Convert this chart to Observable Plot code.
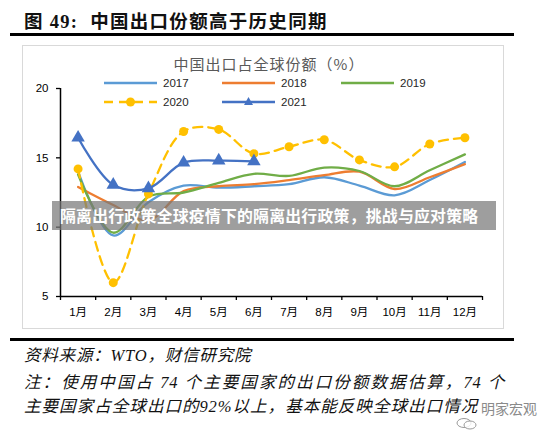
<!DOCTYPE html>
<html>
<head>
<meta charset="utf-8">
<script src="https://cdn.jsdelivr.net/npm/d3@7"></script>
<script src="https://cdn.jsdelivr.net/npm/@observablehq/plot@0.6"></script>
<style>
  html, body { margin: 0; padding: 0; background: #fff; }
  #wrap { position: relative; width: 550px; height: 431px; overflow: hidden; background: #fff; }
  .abs { position: absolute; }
  #title { left: 24px; top: 7px; font: bold 18.5px "Liberation Serif", "Noto Sans CJK SC"; color: #111; letter-spacing: 1.3px; white-space: nowrap; }
  #rule1 { left: 10px; top: 33px; width: 504px; height: 3px; background: #000; }
  #box { left: 22px; top: 45px; width: 480px; height: 282px; border: 1.5px solid #d9d9d9; }
  #plot { left: 0; top: 45px; }
  #ctitle { left: 0; width: 538px; top: 53px; text-align: center; font: 15px "Noto Sans CJK SC"; color: #595959; letter-spacing: 1px; }
  .leg { position: absolute; font: 11.5px "Liberation Sans", sans-serif; color: #262626; display: flex; align-items: center; height: 16px; }
  .leg svg { margin-right: 6px; }
  #banner { left: 52px; top: 201px; width: 444px; height: 29px; background: rgba(120,120,120,0.72); color: #fff; font: bold 15.9px "Noto Sans CJK SC"; line-height: 29px; padding-left: 8px; box-sizing: border-box; white-space: nowrap; letter-spacing: 0.2px; }
  #rule2 { left: 10px; top: 338px; width: 504px; height: 3px; background: #000; }
  .note { position: absolute; left: 24px; font: italic 16.5px "Liberation Serif", "Noto Sans CJK SC"; color: #111; white-space: nowrap; letter-spacing: 0.8px; }
  .just { text-align: justify; text-align-last: justify; white-space: normal; }
  #wm { left: 481px; top: 398px; font: 14px "Noto Sans CJK SC"; color: #8a8a8a; white-space: nowrap; }
</style>
</head>
<body>
<div id="wrap">
  <div id="title" class="abs">图 49:&nbsp; 中国出口份额高于历史同期</div>
  <div id="rule1" class="abs"></div>
  <div id="box" class="abs"></div>
  <div id="plot" class="abs"></div>
  <div id="ctitle" class="abs">中国出口占全球份额（%）</div>
  <div id="legend"></div>
  <div id="banner" class="abs">隔离出行政策全球疫情下的隔离出行政策，挑战与应对策略</div>
  <div id="rule2" class="abs"></div>
  <div class="note" style="top:342px;">资料来源：WTO，财信研究院</div>
  <div class="note just" style="top:369px; width:481px;">注：使用中国占 74 个主要国家的出口份额数据估算，74 个</div>
  <div class="note just" style="top:393px; width:454px;">主要国家占全球出口的92%以上，基本能反映全球出口情况</div>
  <svg class="abs" style="left:455px; top:418px;" width="24" height="12">
    <ellipse cx="9" cy="5" rx="7" ry="4.5" fill="none" stroke="#9a9a9a" stroke-width="1"/>
    <ellipse cx="15" cy="7" rx="6" ry="4" fill="rgba(255,255,255,0.8)" stroke="#9a9a9a" stroke-width="1"/>
  </svg>
  <div id="wm" class="abs">明家宏观</div>
</div>
<script>
const months = ["1月","2月","3月","4月","5月","6月","7月","8月","9月","10月","11月","12月"];
const years = ["2017","2018","2019","2020","2021"];
const colors = ["#5B9BD5","#ED7D31","#70AD47","#FFC000","#4472C4"];
const yTicks = [5, 10, 15, 20];
const s2017 = [14.0, 9.4, 11.8, 13.0, 12.85, 12.95, 13.1, 13.6, 13.0, 12.3, 13.4, 14.7];
const s2018 = [12.9, 11.6, 10.5, 12.6, 12.95, 13.1, 13.4, 13.75, 14.0, 12.75, 13.6, 14.55];
const s2019 = [13.8, 9.6, 12.2, 12.5, 13.2, 13.85, 13.7, 14.3, 14.05, 12.95, 14.1, 15.25];
const s2020 = [14.2, 6.0, 12.4, 16.9, 17.05, 15.3, 15.8, 16.3, 14.85, 14.35, 16.0, 16.45];
const s2021 = [16.45, 13.05, 12.8, 14.65, 14.8, 14.75];

const series = [s2017, s2018, s2019, s2020, s2021];
const toRows = (vals, year) => vals.map((v, i) => ({year, m: i + 1, v}));
const rows = series.map((s, i) => toRows(s, years[i]));

const lineMark = (data, color, extra = {}) =>
  Plot.line(data, {x: "m", y: "v", stroke: color, strokeWidth: 2.3, curve: "catmull-rom", ...extra});

const chart = Plot.plot({
  width: 550, height: 283,
  marginLeft: 60, marginRight: 68, marginTop: 43, marginBottom: 32,
  style: {fontFamily: "'Liberation Sans', 'Noto Sans CJK SC', sans-serif", fontSize: "11.5px", color: "#000", background: "transparent"},
  x: {domain: [0.5, 12.5], axis: null},
  y: {domain: [5, 20], axis: null},
  marks: [
    Plot.axisY({ticks: yTicks, tickSize: 4, tickPadding: 8, label: null, stroke: "#000", strokeWidth: 1.3, fill: "#000", fontSize: 11.5}),
    Plot.axisX({ticks: d3.range(0.5, 13, 1), tickSize: 4, label: null, tickFormat: () => "", stroke: "#000", strokeWidth: 1.3}),
    Plot.axisX({ticks: d3.range(1, 13), tickSize: 0, tickPadding: 11, label: null, tickFormat: d => months[d - 1], fill: "#000", fontSize: 11.5}),
    Plot.ruleX([0.5], {y1: 5, y2: 20, stroke: "#000", strokeWidth: 1.5}),
    Plot.ruleY([5], {x1: 0.5, x2: 12.5, stroke: "#000", strokeWidth: 1.5}),
    lineMark(rows[0], colors[0]),
    lineMark(rows[1], colors[1]),
    lineMark(rows[2], colors[2]),
    lineMark(rows[3], colors[3], {strokeDasharray: "9,6"}),
    Plot.dot(rows[3], {x: "m", y: "v", r: 4.5, fill: colors[3], stroke: "none"}),
    lineMark(rows[4], colors[4]),
    Plot.dot(rows[4], {x: "m", y: "v", r: 5, symbol: "triangle", fill: colors[4], stroke: "none"})
  ]
});
document.getElementById("plot").appendChild(chart);

// legend
const legPos = [[104, 75], [222, 75], [341, 75], [104, 94], [222, 94]];
const leg = document.getElementById("legend");
years.forEach((yr, i) => {
  const d = document.createElement("div");
  d.className = "leg";
  d.style.left = legPos[i][0] + "px";
  d.style.top = legPos[i][1] + "px";
  let sym = "";
  let line = `<line x1="0" x2="53" y1="8" y2="8" stroke="${colors[i]}" stroke-width="2.5"/>`;
  if (i === 3) {
    line = `<line x1="0" x2="53" y1="8" y2="8" stroke="${colors[i]}" stroke-width="2.5" stroke-dasharray="9,6"/>`;
    sym = `<circle cx="26.5" cy="8" r="4.5" fill="${colors[i]}"/>`;
  } else if (i === 4) {
    sym = `<path d="M26.5,3 L31,11 L22,11 Z" fill="${colors[i]}"/>`;
  }
  d.innerHTML = `<svg width="53" height="16">${line}${sym}</svg><span>${yr}</span>`;
  leg.appendChild(d);
});
</script>
</body>
</html>
